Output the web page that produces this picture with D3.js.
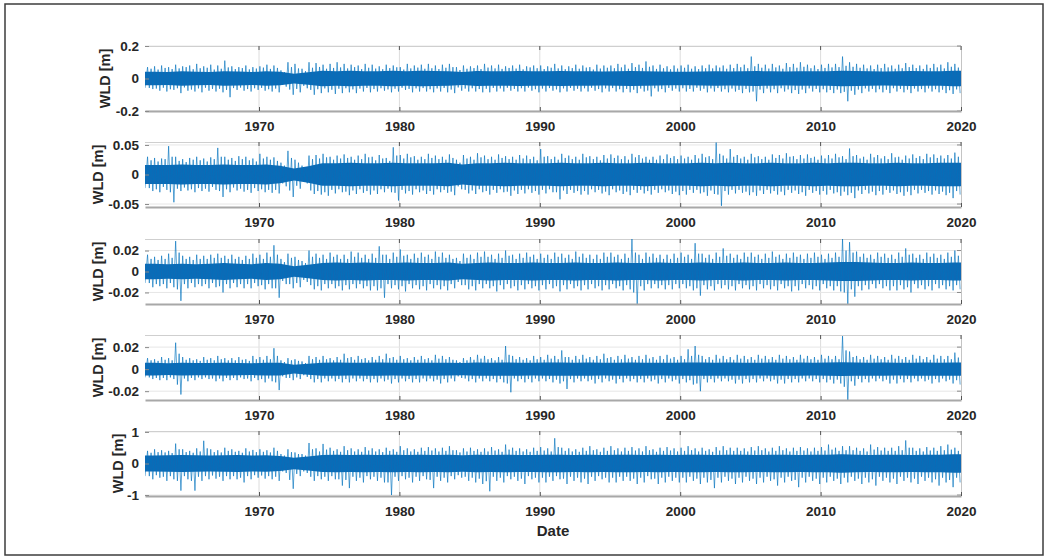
<!DOCTYPE html>
<html><head><meta charset="utf-8">
<script src="https://cdn.jsdelivr.net/npm/d3@7"></script>
<style>
body{margin:0;background:#fff}
svg{display:block}
text{font-family:"Liberation Sans",Arial,Helvetica,sans-serif;font-weight:bold;fill:#262626}
</style>
</head><body>
<svg id="c" width="1049" height="560"></svg>
<script>
// ---------- data ----------
const xTicks=[1970,1980,1990,2000,2010,2020];
const xTickLabels=["1970","1980","1990","2000","2010","2020"];
const binStarts=d3.range(1962,2020,0.5);   // half-year bins
const coreYears=d3.range(1962,2020);       // yearly bins

// Panel 1 : largest peak / trough per half-year (hi, lo), second peak / trough (hiB, loB),
//           dense-band half width per year (core)
const hi1=[.07,.075,.08,.07,.085,.075,.08,.09,.075,.085,.08,.11,.075,.07,.08,.07,.075,.085,.08,.05,
.1,.09,.06,.1,.095,.085,.09,.1,.09,.085,.08,.09,.085,.075,.085,.08,.07,.09,.08,.085,
.09,.08,.085,.09,.07,.08,.075,.08,.09,.08,.085,.075,.08,.085,.075,.08,.08,.075,.09,.08,
.075,.085,.08,.07,.085,.08,.08,.09,.085,.095,.085,.105,.08,.085,.075,.08,.08,.085,.075,.08,
.085,.08,.08,.085,.09,.085,.135,.09,.085,.09,.08,.095,.09,.1,.085,.08,.085,.09,.09,.135,
.1,.09,.085,.08,.085,.09,.08,.085,.095,.085,.08,.085,.09,.085,.1,.09];
const lo1=[-.065,-.075,-.08,-.07,-.09,-.075,-.08,-.085,-.075,-.08,-.085,-.115,-.07,-.075,-.08,-.07,-.075,-.08,-.085,-.05,
-.1,-.085,-.06,-.1,-.09,-.085,-.095,-.09,-.085,-.09,-.08,-.085,-.08,-.075,-.085,-.08,-.07,-.085,-.08,-.08,
-.085,-.08,-.085,-.09,-.075,-.08,-.08,-.085,-.085,-.08,-.08,-.075,-.08,-.08,-.075,-.085,-.08,-.075,-.085,-.08,
-.075,-.08,-.08,-.075,-.085,-.08,-.08,-.085,-.085,-.09,-.08,-.11,-.08,-.085,-.075,-.08,-.08,-.08,-.075,-.085,
-.08,-.08,-.085,-.08,-.09,-.085,-.14,-.09,-.085,-.09,-.08,-.09,-.095,-.09,-.08,-.085,-.085,-.09,-.09,-.14,
-.1,-.09,-.08,-.085,-.085,-.09,-.08,-.085,-.09,-.08,-.085,-.08,-.085,-.09,-.095,-.09];
const hiB1=[.06,.055,.065,.058,.062,.07,.057,.063,.066,.055,.06,.068,.058,.064,.056,.061,.067,.059,.065,.04,
.07,.062,.045,.066,.071,.06,.065,.068,.062,.07,.058,.066,.061,.057,.064,.069,.055,.062,.067,.06,
.063,.058,.066,.07,.052,.06,.064,.058,.067,.062,.059,.065,.061,.056,.068,.063,.058,.066,.062,.057,
.064,.06,.067,.055,.061,.066,.063,.068,.06,.07,.065,.072,.059,.063,.057,.061,.066,.06,.058,.063,
.062,.067,.06,.064,.069,.063,.075,.066,.061,.068,.06,.07,.066,.072,.063,.058,.065,.068,.07,.078,
.072,.066,.062,.058,.064,.068,.06,.063,.07,.064,.059,.065,.068,.062,.072,.067];
const loB1=[-.058,-.062,-.057,-.066,-.06,-.055,-.068,-.061,-.057,-.064,-.063,-.07,-.059,-.056,-.065,-.06,-.058,-.066,-.062,-.04,
-.068,-.064,-.045,-.07,-.066,-.061,-.069,-.063,-.06,-.067,-.062,-.058,-.065,-.06,-.067,-.063,-.057,-.064,-.061,-.059,
-.066,-.061,-.058,-.068,-.055,-.062,-.06,-.065,-.063,-.058,-.061,-.057,-.064,-.06,-.056,-.066,-.062,-.059,-.067,-.061,
-.058,-.063,-.06,-.057,-.065,-.061,-.059,-.066,-.064,-.069,-.062,-.074,-.06,-.065,-.058,-.062,-.06,-.064,-.057,-.063,
-.061,-.059,-.066,-.062,-.07,-.064,-.08,-.068,-.062,-.066,-.06,-.067,-.071,-.068,-.061,-.064,-.066,-.07,-.068,-.082,
-.075,-.068,-.061,-.064,-.066,-.069,-.06,-.064,-.068,-.062,-.065,-.061,-.066,-.069,-.072,-.067];
const core1=[.042,.04,.045,.042,.04,.045,.043,.04,.045,.042,
.03,.038,.048,.045,.047,.045,.045,.048,.045,.047,
.046,.044,.04,.046,.045,.044,.046,.045,.044,.046,
.045,.044,.043,.045,.046,.044,.043,.042,.042,.043,
.044,.043,.045,.046,.044,.043,.045,.044,.045,.048,
.046,.044,.043,.044,.046,.044,.045,.047];

// Panel 2
const hi2=[.03,.028,.027,.048,.03,.026,.028,.03,.027,.029,.045,.03,.028,.031,.03,.027,.035,.03,.029,.02,
.04,.025,.015,.032,.033,.035,.03,.032,.034,.03,.032,.035,.03,.033,.028,.046,.033,.035,.031,.03,
.035,.032,.03,.034,.025,.033,.03,.036,.032,.03,.034,.031,.03,.033,.032,.03,.043,.031,.03,.035,
.032,.03,.035,.031,.03,.033,.034,.032,.031,.035,.033,.03,.03,.032,.034,.031,.032,.03,.033,.035,
.031,.054,.032,.043,.033,.03,.035,.031,.03,.034,.033,.036,.031,.033,.034,.03,.032,.033,.035,.031,
.044,.033,.03,.035,.033,.031,.036,.03,.032,.034,.031,.035,.034,.032,.033,.037];
const lo2=[-.028,-.03,-.026,-.047,-.028,-.027,-.03,-.028,-.029,-.026,-.038,-.03,-.027,-.029,-.031,-.028,-.03,-.031,-.032,-.02,
-.038,-.024,-.015,-.033,-.034,-.036,-.032,-.03,-.035,-.033,-.031,-.034,-.033,-.03,-.03,-.044,-.032,-.034,-.03,-.033,
-.034,-.03,-.031,-.035,-.025,-.032,-.033,-.03,-.034,-.031,-.03,-.036,-.033,-.032,-.031,-.034,-.032,-.03,-.042,-.033,
-.031,-.034,-.034,-.03,-.032,-.035,-.03,-.033,-.035,-.031,-.032,-.034,-.031,-.03,-.033,-.035,-.034,-.031,-.032,-.036,
-.033,-.053,-.034,-.032,-.031,-.035,-.036,-.033,-.032,-.034,-.035,-.031,-.033,-.036,-.031,-.034,-.034,-.032,-.036,-.035,
-.04,-.033,-.032,-.035,-.034,-.031,-.033,-.036,-.035,-.032,-.031,-.034,-.033,-.035,-.04,-.034];
const hiB2=[.024,.022,.026,.03,.023,.021,.025,.024,.022,.026,.03,.025,.023,.026,.024,.022,.027,.025,.023,.015,
.028,.02,.012,.026,.027,.029,.025,.027,.028,.025,.026,.029,.024,.027,.023,.032,.027,.029,.025,.026,
.028,.026,.025,.028,.02,.027,.025,.029,.026,.025,.028,.026,.025,.027,.026,.024,.03,.026,.025,.028,
.026,.025,.029,.026,.024,.027,.028,.026,.025,.029,.027,.025,.025,.026,.028,.026,.027,.025,.027,.029,
.026,.035,.027,.03,.027,.025,.029,.026,.025,.028,.027,.03,.026,.027,.028,.025,.027,.027,.029,.026,
.031,.027,.025,.029,.027,.026,.029,.025,.027,.028,.026,.029,.028,.027,.027,.03];
const loB2=[-.023,-.025,-.021,-.03,-.024,-.022,-.025,-.023,-.024,-.021,-.028,-.025,-.022,-.024,-.026,-.023,-.025,-.026,-.026,-.015,
-.027,-.019,-.012,-.027,-.028,-.03,-.026,-.025,-.029,-.027,-.025,-.028,-.027,-.025,-.024,-.031,-.026,-.028,-.025,-.027,
-.028,-.025,-.026,-.029,-.02,-.026,-.027,-.025,-.028,-.026,-.025,-.029,-.027,-.026,-.025,-.028,-.026,-.025,-.03,-.027,
-.026,-.028,-.028,-.025,-.026,-.029,-.025,-.027,-.029,-.026,-.026,-.028,-.026,-.025,-.027,-.029,-.028,-.026,-.026,-.03,
-.027,-.034,-.028,-.026,-.026,-.029,-.03,-.027,-.026,-.028,-.029,-.026,-.027,-.03,-.026,-.028,-.028,-.026,-.03,-.029,
-.031,-.027,-.026,-.029,-.028,-.026,-.027,-.03,-.029,-.026,-.026,-.028,-.027,-.029,-.031,-.028];
const core2=[.016,.016,.017,.016,.016,.017,.016,.016,.017,.015,
.01,.014,.019,.019,.02,.019,.019,.02,.019,.019,
.019,.02,.017,.019,.019,.02,.019,.019,.019,.02,
.019,.019,.02,.019,.019,.02,.019,.019,.019,.02,
.019,.02,.019,.019,.02,.019,.019,.02,.019,.02,
.02,.019,.019,.02,.019,.019,.02,.02];

// Panel 3
const hi3=[.016,.014,.015,.017,.029,.015,.014,.016,.015,.016,.017,.015,.016,.014,.015,.017,.016,.018,.025,.012,
.017,.014,.01,.02,.017,.016,.018,.016,.016,.019,.018,.016,.017,.024,.016,.018,.021,.016,.017,.018,
.016,.019,.018,.016,.013,.017,.016,.018,.019,.016,.017,.02,.016,.017,.018,.016,.017,.016,.018,.017,
.016,.019,.017,.016,.016,.018,.018,.016,.017,.031,.016,.018,.017,.016,.016,.017,.018,.016,.027,.017,
.016,.018,.022,.017,.016,.018,.018,.016,.017,.019,.016,.017,.018,.016,.017,.018,.016,.017,.018,.031,
.028,.019,.017,.016,.018,.017,.016,.018,.022,.017,.016,.018,.017,.016,.018,.02];
const lo3=[-.015,-.014,-.016,-.015,-.028,-.016,-.015,-.014,-.016,-.015,-.02,-.016,-.015,-.016,-.016,-.014,-.017,-.016,-.025,-.012,
-.016,-.015,-.01,-.017,-.018,-.016,-.016,-.018,-.017,-.016,-.016,-.018,-.018,-.025,-.016,-.017,-.019,-.016,-.017,-.018,
-.016,-.017,-.018,-.016,-.013,-.017,-.018,-.016,-.016,-.019,-.017,-.016,-.018,-.017,-.016,-.018,-.017,-.016,-.019,-.017,
-.016,-.018,-.017,-.016,-.018,-.017,-.016,-.018,-.017,-.031,-.018,-.016,-.016,-.017,-.017,-.016,-.016,-.018,-.023,-.017,
-.018,-.016,-.017,-.018,-.016,-.017,-.018,-.016,-.017,-.018,-.016,-.019,-.018,-.016,-.017,-.018,-.016,-.018,-.019,-.031,
-.024,-.018,-.017,-.016,-.016,-.018,-.018,-.017,-.02,-.016,-.017,-.018,-.016,-.017,-.018,-.017];
const hiB3=[.012,.011,.012,.013,.018,.012,.011,.012,.012,.013,.013,.012,.012,.011,.012,.013,.012,.014,.016,.009,
.013,.011,.008,.014,.013,.012,.014,.012,.012,.014,.013,.012,.013,.016,.012,.014,.015,.012,.013,.014,
.012,.014,.013,.012,.01,.013,.012,.014,.014,.012,.013,.015,.012,.013,.014,.012,.013,.012,.014,.013,
.012,.014,.013,.012,.012,.014,.014,.012,.013,.018,.012,.014,.013,.012,.012,.013,.014,.012,.017,.013,
.012,.014,.015,.013,.012,.014,.014,.012,.013,.014,.012,.013,.014,.012,.013,.014,.012,.013,.014,.02,
.018,.014,.013,.012,.014,.013,.012,.014,.016,.013,.012,.014,.013,.012,.014,.015];
const loB3=[-.011,-.012,-.012,-.011,-.017,-.012,-.011,-.012,-.012,-.011,-.014,-.012,-.011,-.012,-.012,-.011,-.013,-.012,-.016,-.009,
-.012,-.011,-.008,-.013,-.014,-.012,-.012,-.014,-.013,-.012,-.012,-.014,-.014,-.016,-.012,-.013,-.014,-.012,-.013,-.014,
-.012,-.013,-.014,-.012,-.01,-.013,-.014,-.012,-.012,-.014,-.013,-.012,-.014,-.013,-.012,-.014,-.013,-.012,-.014,-.013,
-.012,-.014,-.013,-.012,-.014,-.013,-.012,-.014,-.013,-.02,-.014,-.012,-.012,-.013,-.013,-.012,-.012,-.014,-.016,-.013,
-.014,-.012,-.013,-.014,-.012,-.013,-.014,-.012,-.013,-.014,-.012,-.014,-.014,-.012,-.013,-.014,-.012,-.014,-.014,-.02,
-.017,-.014,-.013,-.012,-.012,-.014,-.014,-.013,-.015,-.012,-.013,-.014,-.012,-.013,-.014,-.013];
const core3=[.0075,.007,.0075,.007,.0075,.008,.0075,.007,.008,.0075,
.005,.0065,.008,.0085,.008,.0085,.008,.008,.0085,.008,
.008,.0085,.0075,.008,.0085,.008,.008,.0085,.008,.008,
.0085,.008,.008,.0085,.008,.008,.0085,.008,.008,.0085,
.008,.008,.0085,.008,.008,.0085,.008,.008,.0085,.009,
.009,.0085,.008,.008,.0085,.008,.008,.0085];

// Panel 4
const hi4=[.01,.009,.011,.01,.024,.011,.01,.009,.011,.01,.012,.01,.01,.011,.009,.012,.011,.012,.019,.008,
.01,.009,.007,.012,.011,.012,.01,.011,.014,.011,.012,.01,.011,.012,.014,.011,.012,.01,.011,.012,
.01,.013,.012,.011,.008,.01,.011,.013,.012,.01,.011,.021,.012,.011,.01,.012,.011,.013,.012,.017,
.011,.012,.013,.011,.012,.014,.011,.012,.013,.011,.012,.013,.011,.012,.013,.011,.012,.018,.021,.012,
.011,.013,.012,.011,.013,.012,.011,.013,.012,.011,.013,.012,.011,.013,.012,.011,.013,.012,.012,.03,
.016,.012,.011,.013,.012,.011,.013,.012,.011,.013,.012,.011,.013,.012,.012,.015];
const lo4=[-.009,-.01,-.01,-.009,-.023,-.011,-.01,-.009,-.009,-.011,-.011,-.01,-.01,-.009,-.011,-.01,-.012,-.011,-.019,-.008,
-.01,-.009,-.007,-.012,-.012,-.011,-.011,-.012,-.012,-.011,-.011,-.012,-.012,-.011,-.013,-.012,-.011,-.012,-.012,-.011,
-.011,-.013,-.012,-.011,-.008,-.011,-.012,-.011,-.011,-.012,-.012,-.021,-.011,-.012,-.012,-.011,-.011,-.012,-.013,-.018,
-.012,-.011,-.011,-.013,-.012,-.011,-.013,-.012,-.011,-.012,-.012,-.011,-.013,-.012,-.011,-.013,-.012,-.014,-.02,-.012,
-.012,-.011,-.011,-.013,-.013,-.012,-.012,-.011,-.011,-.013,-.013,-.012,-.012,-.011,-.011,-.012,-.012,-.013,-.013,-.028,
-.015,-.012,-.012,-.011,-.011,-.013,-.013,-.012,-.012,-.011,-.011,-.013,-.012,-.011,-.013,-.014];
const hiB4=[.008,.0075,.0085,.008,.014,.0085,.008,.0075,.0085,.008,.009,.008,.008,.0085,.0075,.009,.0085,.009,.012,.0065,
.008,.0075,.0055,.009,.0085,.009,.008,.0085,.01,.0085,.009,.008,.0085,.009,.01,.0085,.009,.008,.0085,.009,
.008,.0095,.009,.0085,.0065,.008,.0085,.0095,.009,.008,.0085,.013,.009,.0085,.008,.009,.0085,.0095,.009,.011,
.0085,.009,.0095,.0085,.009,.01,.0085,.009,.0095,.0085,.009,.0095,.0085,.009,.0095,.0085,.009,.012,.013,.009,
.0085,.0095,.009,.0085,.0095,.009,.0085,.0095,.009,.0085,.0095,.009,.0085,.0095,.009,.0085,.0095,.009,.009,.017,
.011,.009,.0085,.0095,.009,.0085,.0095,.009,.0085,.0095,.009,.0085,.0095,.009,.009,.0105];
const loB4=[-.0075,-.008,-.008,-.0075,-.014,-.0085,-.008,-.0075,-.0075,-.0085,-.0085,-.008,-.008,-.0075,-.0085,-.008,-.009,-.0085,-.012,-.0065,
-.008,-.0075,-.0055,-.009,-.009,-.0085,-.0085,-.009,-.009,-.0085,-.0085,-.009,-.009,-.0085,-.0095,-.009,-.0085,-.009,-.009,-.0085,
-.0085,-.0095,-.009,-.0085,-.0065,-.0085,-.009,-.0085,-.0085,-.009,-.009,-.013,-.0085,-.009,-.009,-.0085,-.0085,-.009,-.0095,-.011,
-.009,-.0085,-.0085,-.0095,-.009,-.0085,-.0095,-.009,-.0085,-.009,-.009,-.0085,-.0095,-.009,-.0085,-.0095,-.009,-.01,-.013,-.009,
-.009,-.0085,-.0085,-.0095,-.0095,-.009,-.009,-.0085,-.0085,-.0095,-.0095,-.009,-.009,-.0085,-.0085,-.009,-.009,-.0095,-.0095,-.016,
-.011,-.009,-.009,-.0085,-.0085,-.0095,-.0095,-.009,-.009,-.0085,-.0085,-.0095,-.009,-.0085,-.0095,-.01];
const core4=[.0057,.0054,.0057,.0056,.0055,.0057,.0056,.0054,.0058,.0057,
.004,.005,.0059,.006,.0058,.0059,.006,.0058,.0059,.0058,
.0059,.0058,.0056,.006,.0059,.0061,.0059,.0058,.006,.0061,
.0059,.006,.0058,.0059,.006,.0059,.0058,.0059,.006,.0061,
.0059,.006,.0059,.0058,.006,.0059,.006,.0058,.006,.0062,
.0061,.0059,.006,.0058,.0059,.006,.0059,.0061];

// Panel 5
const hi5=[.4,.45,.42,.4,.63,.45,.4,.48,.72,.45,.42,.5,.45,.4,.48,.43,.45,.42,.5,.3,
.45,.35,.3,.65,.48,.62,.5,.45,.55,.48,.45,.52,.48,.45,.5,.45,.55,.48,.45,.5,
.52,.48,.5,.55,.42,.48,.5,.45,.48,.52,.45,.6,.5,.48,.45,.5,.52,.48,.8,.5,
.48,.45,.5,.55,.45,.5,.55,.48,.5,.52,.48,.55,.45,.5,.52,.48,.5,.55,.48,.5,
.45,.52,.55,.5,.5,.48,.52,.55,.48,.5,.55,.48,.5,.52,.48,.5,.52,.6,.5,.55,
.55,.5,.48,.6,.52,.5,.5,.55,.73,.5,.48,.52,.5,.55,.6,.5];
const lo5=[-.5,-.45,-.55,-.5,-.86,-.5,-.86,-.55,-.5,-.48,-.55,-.5,-.5,-.6,-.5,-.45,-.48,-.5,-.55,-.3,
-.8,-.4,-.3,-.55,-.5,-.55,-.5,-.7,-.78,-.55,-.6,-.5,-.55,-.6,-1.0,-.55,-.5,-.6,-.55,-.5,
-.78,-.55,-.6,-.5,-.45,-.55,-.6,-.65,-.88,-.55,-.6,-.5,-.55,-.65,-.5,-.6,-.6,-.55,-.5,-.65,
-.55,-.6,-.65,-.55,-.5,-.6,-.6,-.55,-.55,-.65,-.6,-.5,-.65,-.6,-.55,-.6,-.6,-.55,-.65,-.6,
-.78,-.6,-.55,-.65,-.6,-.55,-.65,-.6,-.55,-.7,-.6,-.55,-.75,-.6,-.55,-.65,-.6,-.55,-.65,-.6,
-.55,-.65,-.6,-.7,-.55,-.6,-.65,-.55,-.6,-.65,-.55,-.6,-.7,-.6,-.75,-.6];
const hiB5=[.34,.36,.35,.33,.45,.36,.34,.38,.48,.36,.35,.4,.37,.34,.38,.36,.37,.35,.4,.25,
.36,.3,.25,.45,.38,.44,.4,.37,.42,.38,.37,.41,.38,.36,.4,.37,.42,.38,.37,.4,
.41,.38,.4,.42,.35,.38,.4,.37,.38,.41,.37,.44,.4,.38,.37,.4,.41,.38,.52,.4,
.38,.37,.4,.42,.37,.4,.42,.38,.4,.41,.38,.42,.37,.4,.41,.38,.4,.42,.38,.4,
.37,.41,.42,.4,.4,.38,.41,.42,.38,.4,.42,.38,.4,.41,.38,.4,.41,.44,.4,.42,
.42,.4,.38,.44,.41,.4,.4,.42,.5,.4,.38,.41,.4,.42,.44,.4];
const loB5=[-.4,-.37,-.42,-.4,-.55,-.4,-.55,-.42,-.4,-.38,-.42,-.4,-.4,-.45,-.4,-.37,-.38,-.4,-.42,-.25,
-.52,-.33,-.25,-.42,-.4,-.42,-.4,-.5,-.52,-.42,-.45,-.4,-.42,-.45,-.6,-.42,-.4,-.45,-.42,-.4,
-.52,-.42,-.45,-.4,-.37,-.42,-.45,-.48,-.56,-.42,-.45,-.4,-.42,-.48,-.4,-.45,-.45,-.42,-.4,-.48,
-.42,-.45,-.48,-.42,-.4,-.45,-.45,-.42,-.42,-.48,-.45,-.4,-.48,-.45,-.42,-.45,-.45,-.42,-.48,-.45,
-.52,-.45,-.42,-.48,-.45,-.42,-.48,-.45,-.42,-.5,-.45,-.42,-.52,-.45,-.42,-.48,-.45,-.42,-.48,-.45,
-.42,-.48,-.45,-.5,-.42,-.45,-.48,-.42,-.45,-.48,-.42,-.45,-.5,-.45,-.52,-.45];
const core5=[.25,.26,.27,.26,.25,.26,.27,.25,.26,.24,
.18,.22,.27,.28,.27,.28,.27,.28,.27,.28,
.27,.28,.26,.28,.27,.28,.27,.27,.28,.28,
.27,.28,.27,.28,.28,.27,.28,.27,.28,.28,
.27,.28,.28,.27,.28,.28,.27,.28,.28,.29,
.28,.27,.28,.28,.27,.28,.28,.29];

const yTicks1=[-0.2,0,0.2],   yTickLabels1=["-0.2","0","0.2"];
const yTicks2=[-0.05,0,0.05], yTickLabels2=["-0.05","0","0.05"];
const yTicks3=[-0.02,0,0.02], yTickLabels3=["-0.02","0","0.02"];
const yTicks4=[-0.02,0,0.02], yTickLabels4=["-0.02","0","0.02"];
const yTicks5=[-1,0,1],       yTickLabels5=["-1","0","1"];
const yLabel="WLD [m]", xLabel="Date";

// ---------- layout ----------
const panels=[
 {hi:hi1,lo:lo1,hiB:hiB1,loB:loB1,core:core1,dom:[-0.2,0.2],ticks:yTicks1,labels:yTickLabels1,top:46,lx:105},
 {hi:hi2,lo:lo2,hiB:hiB2,loB:loB2,core:core2,dom:[-0.055,0.055],ticks:yTicks2,labels:yTickLabels2,top:142,lx:98},
 {hi:hi3,lo:lo3,hiB:hiB3,loB:loB3,core:core3,dom:[-0.031,0.031],ticks:yTicks3,labels:yTickLabels3,top:239,lx:98},
 {hi:hi4,lo:lo4,hiB:hiB4,loB:loB4,core:core4,dom:[-0.028,0.031],ticks:yTicks4,labels:yTickLabels4,top:335,lx:98},
 {hi:hi5,lo:lo5,hiB:hiB5,loB:loB5,core:core5,dom:[-1.03,1.03],ticks:yTicks5,labels:yTickLabels5,top:431,lx:117.5}
];
const L=145,R=961,PH=65;
const svg=d3.select("#c");
svg.append("rect").attr("x",5).attr("y",4).attr("width",1038).attr("height",551)
  .attr("fill","#fff").attr("stroke","#3c3c3c").attr("stroke-width",1.5);

const x=d3.scaleLinear().domain([1961.88,2020]).range([L,R]);
const blue="#0072BD";

panels.forEach((p,i)=>{
  const top=p.top, bot=top+PH;
  const y=d3.scaleLinear().domain(p.dom).range([bot,top]);
  const g=svg.append("g");
  g.selectAll(".vg").data(xTicks.slice(0,-1)).join("line")
    .attr("x1",d=>x(d)).attr("x2",d=>x(d)).attr("y1",top).attr("y2",bot)
    .attr("stroke","#dcdcdc").attr("stroke-width",1);
  g.selectAll(".hg").data(p.ticks).join("line")
    .attr("x1",L).attr("x2",R).attr("y1",d=>y(d)).attr("y2",d=>y(d))
    .attr("stroke","#e6e6e6").attr("stroke-width",1);
  g.append("line").attr("x1",L).attr("x2",R).attr("y1",top+0.5).attr("y2",top+0.5)
    .attr("stroke","#cfcfcf");
  g.append("line").attr("x1",R+0.5).attr("x2",R+0.5).attr("y1",top).attr("y2",bot)
    .attr("stroke","#c4c4c4");
  const cid="clip"+i;
  svg.append("clipPath").attr("id",cid).append("rect")
    .attr("x",L).attr("y",top).attr("width",R-L).attr("height",PH);
  const dg=svg.append("g").attr("clip-path",`url(#${cid})`);
  // dense band
  const band=[{t:x.domain()[0],c:p.core[0]}]
    .concat(coreYears.map((yr,k)=>({t:yr+0.5,c:p.core[k]})))
    .concat([{t:2020,c:p.core[p.core.length-1]}]);
  dg.append("path").datum(band)
    .attr("d",d3.area().x(d=>x(d.t)).y0(d=>y(-d.c)).y1(d=>y(d.c)))
    .attr("fill","#1069b4");
  // oscillating trace through the peaks and troughs of each half-year
  const zz=[{t:x.domain()[0],v:p.loB[0]}];
  binStarts.forEach((b,k)=>{
    zz.push({t:b+0.0625,v:p.hi[k]});
    zz.push({t:b+0.1875,v:p.loB[k]});
    zz.push({t:b+0.3125,v:p.hiB[k]});
    zz.push({t:b+0.4375,v:p.lo[k]});
  });
  dg.append("path").datum(zz)
    .attr("d",d3.line().x(d=>x(d.t)).y(d=>y(d.v)))
    .attr("fill","none").attr("stroke",blue).attr("stroke-width",0.8).attr("stroke-opacity",0.8);
  // x axis
  const xa=svg.append("g").attr("transform",`translate(0,${bot})`)
    .call(d3.axisBottom(x).tickValues(xTicks).tickFormat((d,k)=>xTickLabels[k])
      .tickSizeInner(-4).tickSizeOuter(0).tickPadding(10));
  xa.select(".domain").attr("stroke","#a8a8a8").attr("stroke-width",2);
  xa.selectAll(".tick line").attr("stroke","#555");
  xa.selectAll("text").style("font-size","13.5px").attr("fill","#262626");
  g.selectAll(".tt").data(xTicks).join("line")
    .attr("x1",d=>x(d)).attr("x2",d=>x(d)).attr("y1",top).attr("y2",top+4)
    .attr("stroke","#555");
  // y axis
  const ya=svg.append("g").attr("transform",`translate(${L},0)`)
    .call(d3.axisLeft(y).tickValues(p.ticks).tickFormat((d,k)=>p.labels[k])
      .tickSizeInner(-4).tickSizeOuter(0).tickPadding(6));
  ya.select(".domain").attr("stroke","none");
  ya.selectAll(".tick line").attr("stroke","#8a8a8a");
  ya.selectAll("text").style("font-size","13.5px").attr("fill","#262626");
  g.selectAll(".rt").data(p.ticks).join("line")
    .attr("x1",R-4).attr("x2",R).attr("y1",d=>y(d)).attr("y2",d=>y(d))
    .attr("stroke","#8a8a8a");
  svg.append("text").attr("transform",`translate(${p.lx},${top+PH/2}) rotate(-90)`)
    .attr("text-anchor","middle").attr("dy","0.36em").style("font-size","14.5px").text(yLabel);
});
svg.append("text").attr("x",553).attr("y",536).attr("text-anchor","middle")
  .style("font-size","15px").text(xLabel);
</script>
</body></html>
